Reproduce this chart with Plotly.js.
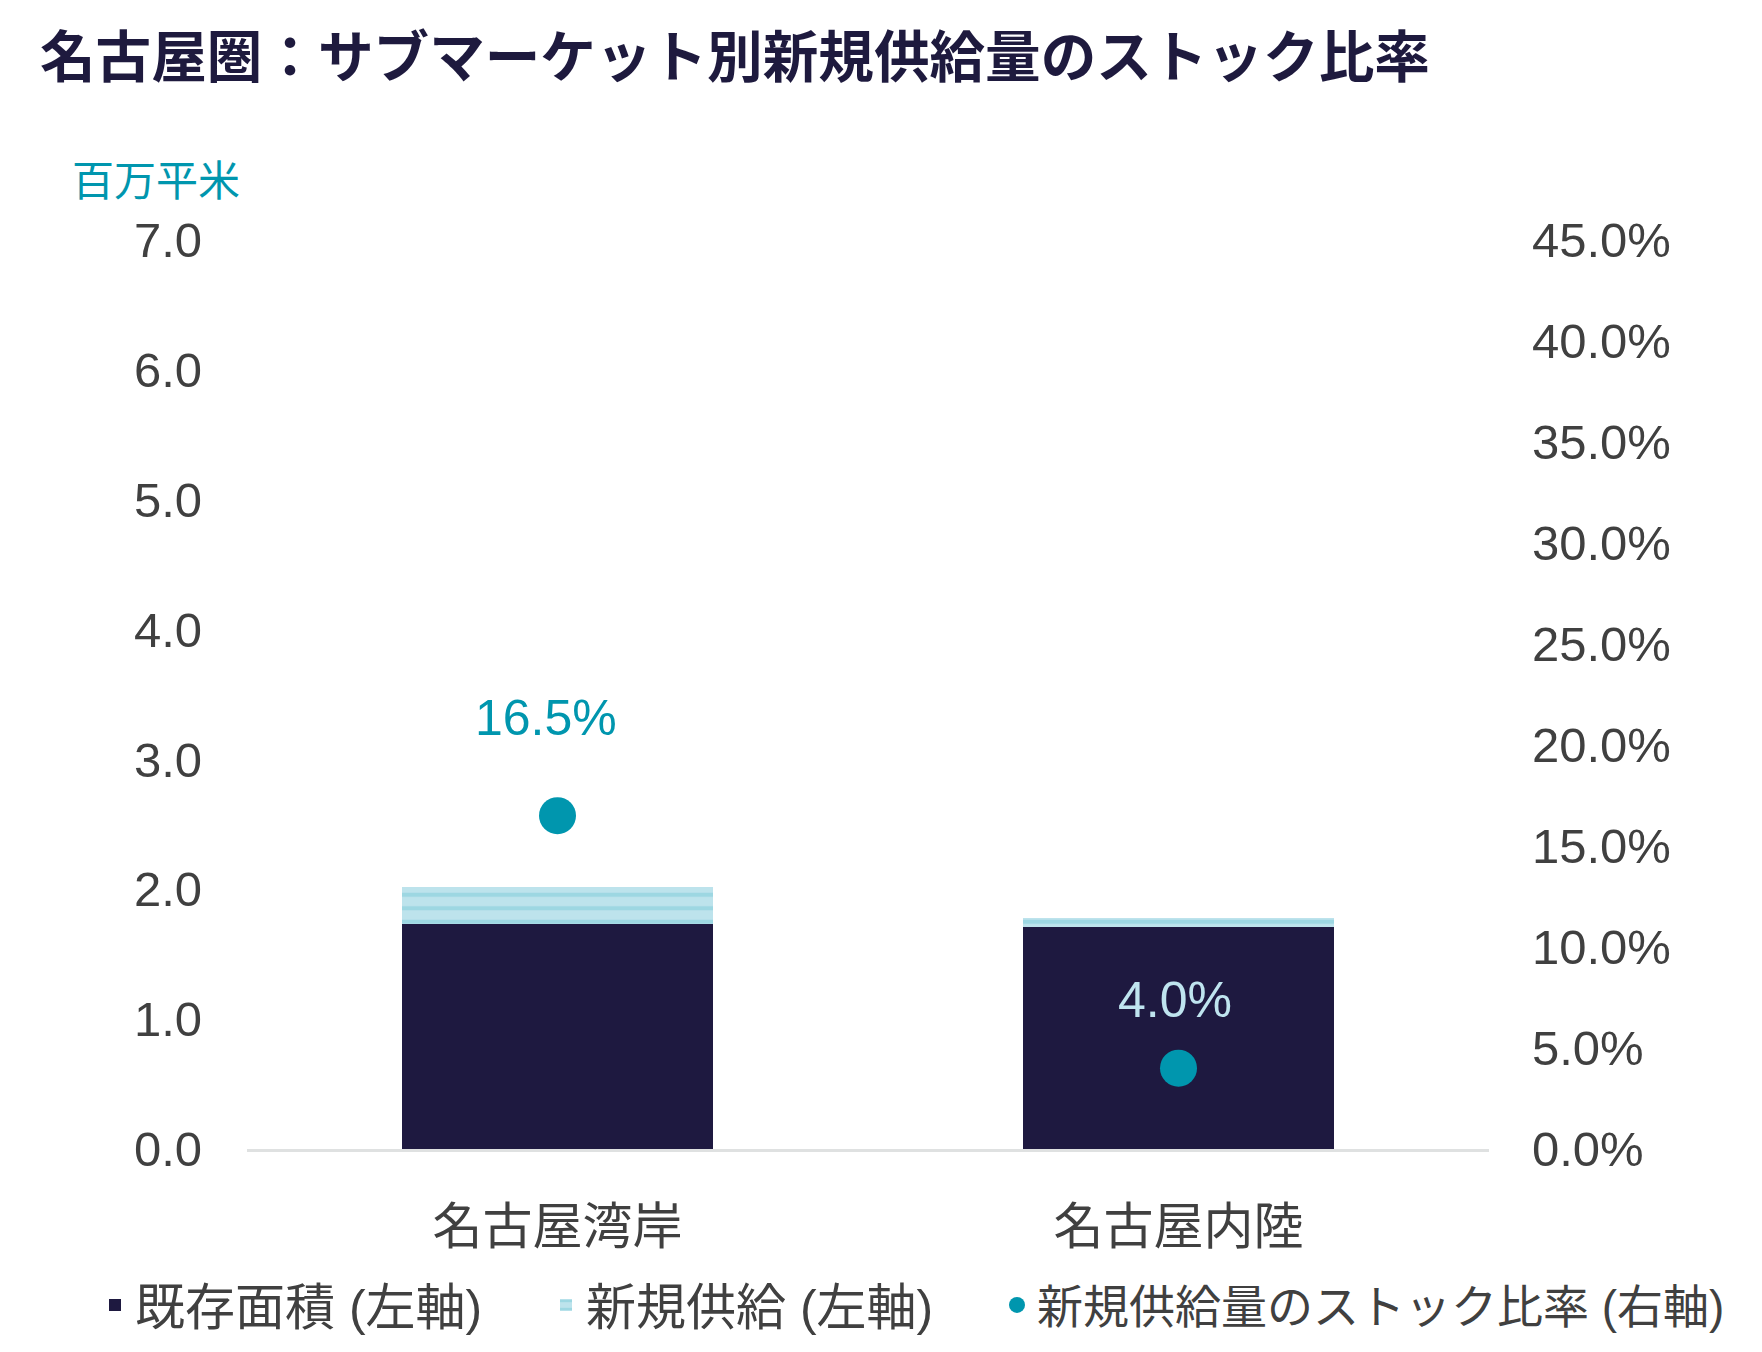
<!DOCTYPE html>
<html>
<head>
<meta charset="utf-8">
<script src="https://cdn.plot.ly/plotly-3.0.1.min.js"></script>
<style>
  html, body { margin: 0; padding: 0; background: #ffffff; }
  #chart { width: 1762px; height: 1352px; }
</style>
</head>
<body>
<div id="chart"></div>
<script>
// sub-markets on the x axis
const subMarkets = ['名古屋湾岸', '名古屋内陸'];

// stock and new supply, million m2 (left axis)
const existingStock = [1.73, 1.71];
const newSupply = [0.29, 0.068];

// new supply as a share of stock (right axis)
const supplyRatio = [0.165, 0.040];

// legend names
const seriesNames = ['既存面積 (左軸)', '新規供給 (左軸)', '新規供給量のストック比率 (右軸)'];

// colours and fonts
const navy = '#1e1940';
const teal = '#0096ae';
const paleBlue = '#bde3ec';
const stripeBlue = '#7ecbd8';
const grey = '#404040';
const fontFamily = '"Liberation Sans", Arial, "Noto Sans CJK JP", sans-serif';

// label colour and offset above each dot
const labelColors = [teal, '#bfe4ef'];
const labelShiftY = [98, 68];
const labelShiftX = [-12, -4];

// left edge and text size of each legend entry
const legendLeft = [95, 546, 997];
const legendSize = [50, 50, 46];

function legendAt(px, size) {
    // one single-entry legend placed at a pixel position
    return {
        orientation: 'h',
        xref: 'container',
        yref: 'container',
        x: px / 1762,
        xanchor: 'left',
        y: 1 - 1305 / 1352,
        yanchor: 'middle',
        font: { family: fontFamily, size: size, color: grey },
        bgcolor: 'rgba(0,0,0,0)'
    };
}

function buildChart() {
    const existingTrace = {
        x: subMarkets,
        y: existingStock,
        name: seriesNames[0],
        type: 'bar',
        legend: 'legend',
        marker: { color: navy, line: { width: 0 } },
        hoverinfo: 'skip'
    };

    const supplyTrace = {
        x: subMarkets,
        y: newSupply,
        name: seriesNames[1],
        type: 'bar',
        legend: 'legend2',
        marker: {
            color: paleBlue,
            line: { width: 0 },
            pattern: {
                shape: '-',
                fgcolor: stripeBlue,
                bgcolor: paleBlue,
                size: 13.5,
                solidity: 0.3,
                fillmode: 'overlay'
            }
        },
        hoverinfo: 'skip'
    };

    const ratioTrace = {
        x: subMarkets,
        y: supplyRatio,
        name: seriesNames[2],
        type: 'scatter',
        mode: 'markers',
        yaxis: 'y2',
        legend: 'legend3',
        marker: { color: teal, size: 37 },
        hoverinfo: 'skip'
    };

    // percentage labels sit above the dots
    const labels = subMarkets.map((name, i) => ({
        x: name,
        y: supplyRatio[i],
        xref: 'x',
        yref: 'y2',
        text: (supplyRatio[i] * 100).toFixed(1) + '%',
        showarrow: false,
        xshift: labelShiftX[i],
        yshift: labelShiftY[i],
        font: { family: fontFamily, size: 50, color: labelColors[i] }
    }));

    // unit label above the left axis
    labels.push({
        text: '百万平米',
        xref: 'paper',
        yref: 'paper',
        x: (70 - 247) / 1242,
        y: (1149 - 181) / 909,
        xanchor: 'left',
        yanchor: 'middle',
        showarrow: false,
        font: { family: fontFamily, size: 42, color: teal }
    });

    const layout = {
        width: 1762,
        height: 1352,
        paper_bgcolor: '#ffffff',
        plot_bgcolor: '#ffffff',
        margin: { l: 247, r: 273, t: 240, b: 203, autoexpand: false },
        barmode: 'stack',
        bargap: 0.5,
        showlegend: true,
        hovermode: false,
        font: { family: fontFamily, color: grey },
        title: {
            text: '<b>名古屋圏：サブマーケット別新規供給量のストック比率</b>',
            xref: 'container',
            yref: 'container',
            x: 40 / 1762,
            xanchor: 'left',
            y: 1 - 58 / 1352,
            yanchor: 'middle',
            font: { family: '"Noto Sans CJK JP", sans-serif', size: 55.6, weight: 900, color: '#1e1a3e' }
        },
        xaxis: {
            type: 'category',
            showgrid: false,
            zeroline: false,
            showline: true,
            linecolor: '#dfe1e1',
            linewidth: 3,
            ticks: '',
            ticklabelstandoff: 32,
            tickfont: { family: fontFamily, size: 50, color: grey },
            fixedrange: true
        },
        yaxis: {
            range: [0, 7],
            dtick: 1,
            tickformat: '.1f',
            showgrid: false,
            zeroline: false,
            showline: false,
            ticks: '',
            ticklabelstandoff: 44,
            tickfont: { family: fontFamily, size: 49, color: grey },
            fixedrange: true
        },
        yaxis2: {
            overlaying: 'y',
            side: 'right',
            range: [0, 0.45],
            dtick: 0.05,
            tickformat: '.1%',
            showgrid: false,
            zeroline: false,
            showline: false,
            ticks: '',
            ticklabelstandoff: 42,
            tickfont: { family: fontFamily, size: 49, color: grey },
            fixedrange: true
        },
        legend: legendAt(legendLeft[0], legendSize[0]),
        legend2: legendAt(legendLeft[1], legendSize[1]),
        legend3: legendAt(legendLeft[2], legendSize[2]),
        annotations: labels
    };

    const config = { displayModeBar: false, staticPlot: true };

    Plotly.newPlot('chart', [existingTrace, supplyTrace, ratioTrace], layout, config);
}

buildChart();
</script>
</body>
</html>
